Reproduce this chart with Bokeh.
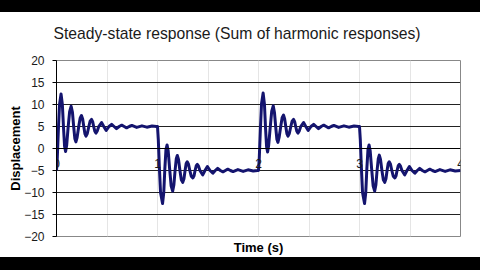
from bokeh.plotting import figure
from bokeh.models import LinearAxis, FixedTicker, Grid, Range1d, Div, Title
from bokeh.layouts import column
from bokeh.embed import file_html
from bokeh.resources import INLINE

# ---- data (one list pair per half period) ----
seg1_t = [0.000, 0.008, 0.018, 0.030, 0.045, 0.058, 0.070, 0.080, 0.090, 0.101,
          0.115, 0.130, 0.145, 0.158, 0.170, 0.182, 0.192, 0.204, 0.220, 0.234,
          0.247, 0.259, 0.270, 0.282, 0.292, 0.305, 0.320, 0.333, 0.347, 0.358,
          0.368, 0.380, 0.390, 0.404, 0.418,
          0.446, 0.468, 0.492, 0.520, 0.546, 0.570, 0.594, 0.620, 0.646, 0.670,
          0.694, 0.720, 0.746, 0.794, 0.846, 0.894, 0.946, 0.990]
seg1_v = [-5.0, -2.0, 4.0, 10.0, 12.4, 10.0, 4.5, 0.5, -0.7, 0.8,
          4.8, 8.4, 9.6, 8.2, 5.0, 2.2, 1.5, 2.5, 5.0, 6.9,
          7.5, 6.7, 5.0, 3.3, 2.8, 3.4, 5.0, 6.2, 6.6, 6.1,
          5.0, 3.9, 3.5, 4.0, 5.0,
          5.9, 5.0, 4.1, 5.0, 5.5, 5.0, 4.5, 5.0, 5.3, 5.0,
          4.7, 5.0, 5.25, 4.8, 5.15, 4.85, 5.1, 5.0]

seg2_t = [1.000, 1.008, 1.018, 1.030, 1.050, 1.062, 1.073, 1.084, 1.095, 1.106,
          1.120, 1.135, 1.150, 1.162, 1.174, 1.186, 1.196, 1.208, 1.222, 1.236,
          1.250, 1.262, 1.273, 1.284, 1.294, 1.306, 1.320, 1.334, 1.350, 1.362,
          1.372, 1.384, 1.394, 1.406, 1.420,
          1.448, 1.470, 1.494, 1.520, 1.548, 1.572, 1.596, 1.622, 1.648, 1.672,
          1.696, 1.722, 1.748, 1.796, 1.848, 1.896, 1.948, 1.990]
seg2_v = [5.0, 2.0, -4.0, -10.0, -12.5, -10.0, -4.5, -0.2, 0.8, -0.6,
          -4.6, -8.5, -9.7, -8.3, -5.0, -2.3, -1.6, -2.5, -5.0, -7.1,
          -7.7, -6.9, -5.0, -3.4, -3.0, -3.5, -5.0, -6.3, -6.7, -6.2,
          -5.0, -3.9, -3.6, -4.0, -5.0,
          -6.0, -5.0, -4.1, -5.0, -5.6, -5.0, -4.5, -5.0, -5.3, -5.0,
          -4.7, -5.0, -5.25, -4.8, -5.2, -4.85, -5.1, -5.0]

seg3_t = [2.000, 2.008, 2.018, 2.030, 2.046, 2.059, 2.070, 2.080, 2.090, 2.101,
          2.116, 2.131, 2.146, 2.158, 2.170, 2.182, 2.192, 2.204, 2.220, 2.234,
          2.248, 2.259, 2.270, 2.282, 2.292, 2.305, 2.320, 2.333, 2.347, 2.358,
          2.368, 2.380, 2.390, 2.404, 2.418,
          2.446, 2.468, 2.492, 2.520, 2.546, 2.570, 2.594, 2.620, 2.646, 2.670,
          2.694, 2.720, 2.746, 2.794, 2.846, 2.894, 2.946, 2.990]
seg3_v = [-5.0, -2.0, 4.0, 10.2, 12.6, 10.0, 4.5, 0.4, -0.8, 0.8,
          4.8, 8.5, 9.7, 8.2, 5.0, 2.1, 1.4, 2.5, 5.0, 7.0,
          7.6, 6.7, 5.0, 3.3, 2.8, 3.4, 5.0, 6.2, 6.6, 6.1,
          5.0, 3.9, 3.5, 4.0, 5.0,
          5.9, 5.0, 4.1, 5.0, 5.5, 5.0, 4.5, 5.0, 5.3, 5.0,
          4.7, 5.0, 5.25, 4.8, 5.15, 4.85, 5.1, 5.0]

seg4_t = [3.000, 3.008, 3.018, 3.030, 3.050, 3.062, 3.073, 3.084, 3.095, 3.106,
          3.120, 3.135, 3.150, 3.162, 3.174, 3.186, 3.196, 3.208, 3.222, 3.236,
          3.250, 3.262, 3.273, 3.284, 3.294, 3.306, 3.320, 3.334, 3.350, 3.362,
          3.372, 3.384, 3.394, 3.406, 3.420,
          3.448, 3.470, 3.494, 3.520, 3.548, 3.572, 3.596, 3.622, 3.648, 3.672,
          3.696, 3.722, 3.748, 3.796, 3.848, 3.896, 3.948, 4.000]
seg4_v = [5.0, 2.0, -4.0, -10.0, -12.5, -10.0, -4.5, -0.2, 0.8, -0.6,
          -4.6, -8.5, -9.7, -8.3, -5.0, -2.3, -1.5, -2.5, -5.0, -7.1,
          -7.7, -6.9, -5.0, -3.4, -3.0, -3.5, -5.0, -6.3, -6.7, -6.2,
          -5.0, -3.9, -3.6, -4.0, -5.0,
          -6.0, -5.0, -4.1, -5.0, -5.6, -5.0, -4.5, -5.0, -5.3, -5.0,
          -4.7, -5.0, -5.25, -4.8, -5.2, -4.85, -5.1, -5.0]

time_s = seg1_t + seg2_t + seg3_t + seg4_t
displacement = seg1_v + seg2_v + seg3_v + seg4_v

x_ticks = [0, 1, 2, 3, 4]
y_ticks = [-20, -15, -10, -5, 0, 5, 10, 15, 20]
title_text = "Steady-state response (Sum of harmonic responses)"
x_label = "Time (s)"
y_label = "Displacement"

FONT = "Liberation Sans"

p = figure(width=480, height=245, output_backend="svg", toolbar_location=None,
           title=None,
           x_range=Range1d(0, 4), y_range=Range1d(-20, 20),
           x_axis_location=None, y_axis_location=None,
           min_border_left=56, min_border_right=20,
           min_border_top=48, min_border_bottom=19,
           background_fill_color="white", border_fill_color="white",
           outline_line_color="#888888", margin=(0, 0, 0, 0))

# empty spacer between plot area and title
spacer = Title(text=" ", text_font=FONT, text_font_size="12px", standoff=3)
p.add_layout(spacer, "above")

main_title = Title(text=title_text, text_font=FONT, text_font_size="15.7px",
                   text_font_style="normal", text_color="#1a1a1a",
                   align="left", offset=-3, vertical_align="bottom", standoff=0)
p.add_layout(main_title, "above")

# left axis
yax = LinearAxis(ticker=FixedTicker(ticks=y_ticks), axis_label=y_label)
yax.axis_line_color = "black"
yax.major_tick_out = 4
yax.major_tick_in = 0
yax.minor_tick_line_color = None
yax.major_tick_line_color = "black"
yax.major_label_standoff = 8
yax.major_label_text_font = FONT
yax.major_label_text_font_size = "12px"
yax.major_label_text_color = "#1a1a1a"
yax.axis_label_text_font = FONT
yax.axis_label_text_font_size = "13px"
yax.axis_label_text_font_style = "bold"
yax.axis_label_text_color = "black"
yax.axis_label_standoff = -2
p.add_layout(yax, "left")

# bottom axis: label only
xlab = LinearAxis(ticker=FixedTicker(ticks=[]), axis_label=x_label)
xlab.axis_line_color = None
xlab.major_tick_line_color = None
xlab.minor_tick_line_color = None
xlab.axis_label_text_font = FONT
xlab.axis_label_text_font_size = "13px"
xlab.axis_label_text_font_style = "bold"
xlab.axis_label_text_color = "black"
xlab.axis_label_standoff = 3
p.add_layout(xlab, "below")

# axis crossing at y = 0
xzero = LinearAxis(ticker=FixedTicker(ticks=x_ticks), fixed_location=0)
xzero.axis_line_color = "black"
xzero.major_tick_out = 0
xzero.major_tick_in = 0
xzero.minor_tick_line_color = None
xzero.major_label_standoff = 10
xzero.major_label_text_font = FONT
xzero.major_label_text_font_size = "12px"
xzero.major_label_text_color = "#1a1a1a"
p.add_layout(xzero, "below")

p.add_layout(Grid(dimension=1, ticker=FixedTicker(ticks=y_ticks),
                  grid_line_color="#222222", grid_line_width=1))

p.line(time_s, displacement, line_color="#14146e", line_width=3,
       line_join="round")

top_bar = Div(width=480, height=12, margin=(0, 0, 0, 0),
              styles={"background-color": "black"})
bottom_bar = Div(width=480, height=13, margin=(0, 0, 0, 0),
                 styles={"background-color": "black"})

layout = column(top_bar, p, bottom_bar, spacing=0, margin=(0, 0, 0, 0))

open("out.html", "w").write(file_html(layout, INLINE))
